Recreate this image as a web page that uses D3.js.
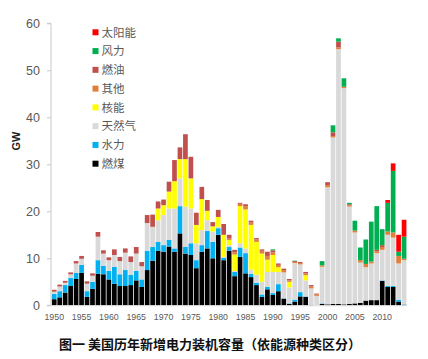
<!DOCTYPE html>
<html><head><meta charset="utf-8">
<script src="https://cdn.jsdelivr.net/npm/d3@7"></script>
<style>body{margin:0;background:#fff}svg{display:block}</style>
</head><body>
<svg id="c" width="428" height="359"></svg>
<script>
const years = d3.range(1950, 2015);
const seriesNames = ["燃煤","水力","天然气","核能","其他","燃油","风力","太阳能"];
const seriesColors = ["#000000","#00b0f0","#d9d9d9","#ffff00","#e0803c","#c0504d","#00b050","#ff0000"];
const yTicks = [0,10,20,30,40,50,60];
const xTickYears = [1950,1955,1960,1965,1970,1975,1980,1985,1990,1995,2000,2005,2010];
const coal = [
 1.3,1.7,2.7,4.1,5.6,6.9,1.8,3.5,6.7,6.6,
 5.5,4.6,4.1,4.1,4.3,5.3,3.9,7.5,9.5,11.6,
 11.4,12.5,11.4,15.3,11.0,10.7,7.9,11.4,12.1,10.0,
 15.0,9.6,11.6,6.2,10.3,6.8,6.0,4.3,1.8,3.4,
 2.2,3.0,1.4,0.3,0.8,1.9,1.8,0.1,0.0,0.3,
 0.2,0.3,0.3,0.2,0.3,0.4,0.5,1.0,1.1,1.1,
 5.2,3.9,3.9,0.8,0.1];
const hydro = [
 1.1,1.3,1.6,1.7,1.3,1.7,1.2,1.5,2.9,1.8,
 1.8,3.6,2.5,3.4,2.2,2.0,1.6,4.1,2.9,1.9,
 1.4,1.4,0.7,5.8,1.4,2.5,1.7,1.4,3.7,3.5,
 1.4,0.5,0.8,0.9,2.0,4.3,0.7,0.5,0.5,0.5,
 0.4,1.5,0.1,0.1,0.4,0.9,0.1,0.0,0.0,0.1,
 0,0,0,0,0,0,0,0,0,0,
 0.1,0.2,0.2,0.4,0.1];
const gas = [
 0.5,1.0,0.5,0.8,2.0,1.3,1.6,1.3,5.0,2.6,
 2.3,2.5,2.8,3.7,2.7,3.7,2.8,5.9,4.3,4.6,
 6.4,6.7,8.5,5.9,8.6,7.4,3.6,3.2,2.3,2.2,
 0.3,0.2,0.4,0.2,0.9,1.0,0.9,1.7,2.7,3.2,
 4.5,2.6,5.5,3.4,7.8,5.9,3.4,3.5,2.0,7.8,
 24.9,35.4,54.2,46.0,20.7,15.1,8.6,7.1,7.8,10.0,
 6.5,10.9,10.3,7.7,9.4];
const nuclear = [
 0,0,0,0,0,0,0,0,0,0,
 0,0,0,0,0,0,0,0,0,2.5,
 2.1,3.6,5.8,4.1,10.1,6.4,3.9,6.6,2.0,1.1,
 2.1,4.7,1.1,3.5,7.9,8.3,9.5,7.0,6.0,2.6,
 3.6,1.0,0,1.2,0,0,1.1,0,0,0,
 0,0,0,0,0,0,0,0,0,0,
 0,0,0,0,0];
const other = [
 0,0,0,0,0,0,0,0,0,0,
 0,0,0,0,0,0,0,0,0,0,
 0,0,0,0,0,0,0,0,0,0,
 0,0,0.3,0.5,0.5,0.7,0.5,0.5,0.6,0.8,
 0.6,0.5,0.5,0.3,0.2,0.3,0.4,0.4,0.3,0.3,
 0.5,0.3,0.4,0.3,0.3,0.4,0.5,0.7,0.4,0.4,
 0.6,0.7,1.1,1.6,0.3];
const oil = [
 0.4,0.4,0.4,0.4,0.5,0.6,0.5,0.5,1.0,0.7,
 0.6,1.2,0.9,0.9,1.2,1.4,0.9,1.7,2.6,1.5,
 1.2,2.1,4.5,2.5,5.3,4.6,2.6,2.6,2.3,0.9,
 1.5,2.3,0.8,0.5,0.2,0.4,0.4,0.3,0.3,0.9,
 0.4,0.3,0.3,0.3,0.2,0.2,0.3,0.3,0.2,0,
 0.6,0.8,1.2,0,0.2,0,0,0,0,0.3,
 0.4,0,0,0,0];
const wind = [
 0,0,0,0,0,0,0,0,0,0,
 0,0,0,0,0,0,0,0,0,0,
 0,0,0,0,0,0,0,0,0,0,
 0,0,0,0,0,0,0,0,0,0,
 0.2,0,0,0,0.1,0,0,0,0,0.9,
 0,1.5,0.7,1.8,0.3,2.1,2.7,5.2,8.5,9.3,
 3.4,6.1,13.1,0.9,4.7];
const solar = [
 0,0,0,0,0,0,0,0,0,0,
 0,0,0,0,0,0,0,0,0,0,
 0,0,0,0,0,0,0,0,0,0,
 0,0,0,0,0,0,0,0,0,0,
 0,0,0,0,0,0,0,0,0,0,
 0,0,0,0,0,0,0,0,0,0,
 0,0.6,1.6,3.6,3.6];

const seriesValues = [coal, hydro, gas, nuclear, other, oil, wind, solar];
const table = years.map((y, i) => {
  const row = {year: y};
  seriesNames.forEach((n, k) => row[n] = seriesValues[k][i]);
  return row;
});
const stacked = d3.stack().keys(seriesNames)(table);

const svg = d3.select("#c");
const x = d3.scaleBand().domain(years).range([51.5, 406.8]).paddingInner(0.14).paddingOuter(0.07);
const y = d3.scaleLinear().domain([0, 60]).range([305.3, 23.3]);

// bars
svg.append("g").selectAll("g").data(stacked).join("g")
  .attr("fill", (d, i) => seriesColors[i])
  .selectAll("rect").data(d => d).join("rect")
  .attr("x", d => x(d.data.year))
  .attr("width", x.bandwidth())
  .attr("y", d => y(d[1]))
  .attr("height", d => Math.max(0, y(d[0]) - y(d[1])));

// y axis
const ya = svg.append("g").attr("transform", "translate(51,0)")
  .call(d3.axisLeft(y).tickValues(yTicks).tickSize(4).tickPadding(7));
ya.select(".domain").attr("stroke", "#c8c8c8").attr("d", `M-4,${y(0)}H0V${y(60)}H-4`);
ya.selectAll(".tick line").attr("stroke", "#c8c8c8");
ya.selectAll(".tick text").attr("fill", "#595959").style("font-family", "'Liberation Sans', Arial, sans-serif").style("font-size", "12.5px");

// x baseline
svg.append("line").attr("x1", 51).attr("x2", 407).attr("y1", y(0)+0.5).attr("y2", y(0)+0.5).attr("stroke", "#e0e0e0");

// x labels
const xa = svg.append("g").attr("transform", `translate(0,${y(0)})`)
  .call(d3.axisBottom(x).tickValues(xTickYears).tickSize(0).tickPadding(8));
xa.select(".domain").remove();
xa.selectAll(".tick text").attr("fill", "#595959").style("font-family", "'Liberation Sans', Arial, sans-serif").style("font-size", "8.8px");

// y label
svg.append("text").attr("transform", "translate(20,141) rotate(-90)")
  .attr("text-anchor", "middle").style("font-family", "'Liberation Sans', Arial, sans-serif")
  .style("font-size", "11px").style("font-weight", "bold").attr("fill", "#222").text("GW");

// legend (top to bottom reversed order)
const legendOrder = d3.range(seriesNames.length).reverse();
const lg = svg.append("g");
legendOrder.forEach((k, j) => {
  const cy = 32.3 + j * 18.77;
  lg.append("rect").attr("x", 92.5).attr("y", cy - 3).attr("width", 6).attr("height", 6).attr("fill", seriesColors[k]);
  lg.append("text").attr("x", 101.5).attr("y", cy + 4.2)
    .style("font-family", "'Noto Sans CJK SC', sans-serif").style("font-size", "11.5px")
    .attr("fill", "#595959").text(seriesNames[k]);
});

// title
svg.append("text").attr("x", 210).attr("y", 348.5).attr("text-anchor", "middle")
  .style("font-family", "'Noto Sans CJK SC', sans-serif").style("font-size", "13px").style("font-weight", "bold")
  .attr("fill", "#111").text("图一 美国历年新增电力装机容量（依能源种类区分）");
</script>
</body></html>
